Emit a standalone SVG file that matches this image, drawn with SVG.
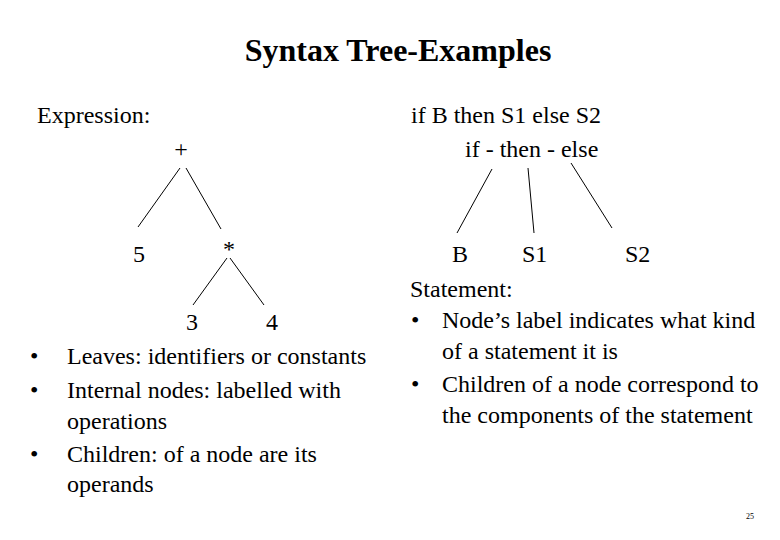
<svg xmlns="http://www.w3.org/2000/svg" width="780" height="540" viewBox="0 0 780 540">
<style>
text{font-family:"Liberation Serif","Times New Roman",serif;font-size:24px;fill:#000}
.t{font-size:32px;font-weight:bold}
.c{text-anchor:middle}
line{stroke:#000;stroke-width:1}
</style>
<rect width="780" height="540" fill="#fff"/>
<text class="t c" x="398" y="61">Syntax Tree-Examples</text>
<text x="37" y="123">Expression:</text>
<text x="411" y="123">if B then S1 else S2</text>
<g id="n-plus"><text class="c" x="181" y="157">+</text></g>
<g id="n-5"><text x="133" y="262">5</text></g>
<g id="n-star"><text class="c" x="229" y="257">*</text></g>
<g id="n-3"><text x="186" y="330">3</text></g>
<g id="n-4"><text x="266" y="330">4</text></g>
<g id="n-ite"><text x="465" y="157">if - then - else</text></g>
<g id="n-B"><text x="452" y="262">B</text></g>
<g id="n-S1"><text x="522" y="262">S1</text></g>
<g id="n-S2"><text x="625" y="262">S2</text></g>
<g id="connectors">
<line x1="180" y1="168" x2="138" y2="227"/>
<line x1="186" y1="168" x2="221" y2="229"/>
<line x1="227" y1="258" x2="193" y2="305"/>
<line x1="230" y1="258" x2="264" y2="305"/>
<line x1="492" y1="169" x2="457" y2="233"/>
<line x1="528" y1="168" x2="534" y2="233"/>
<line x1="571" y1="163" x2="612" y2="228"/>
</g>
<g id="left-notes">
<text x="30" y="364">•</text><text x="67" y="364">Leaves: identifiers or constants</text>
<text x="30" y="398">•</text><text x="67" y="398">Internal nodes: labelled with</text>
<text x="67" y="429">operations</text>
<text x="30" y="462">•</text><text x="67" y="462">Children: of a node are its</text>
<text x="67" y="492">operands</text>
</g>
<g id="right-notes">
<text x="410" y="297">Statement:</text>
<text x="411" y="328">•</text><text x="442" y="328">Node’s label indicates what kind</text>
<text x="442" y="359">of a statement it is</text>
<text x="411" y="392">•</text><text x="442" y="392">Children of a node correspond to</text>
<text x="442" y="423">the components of the statement</text>
</g>
<text x="746" y="519" style="font-size:8px">25</text>
</svg>
